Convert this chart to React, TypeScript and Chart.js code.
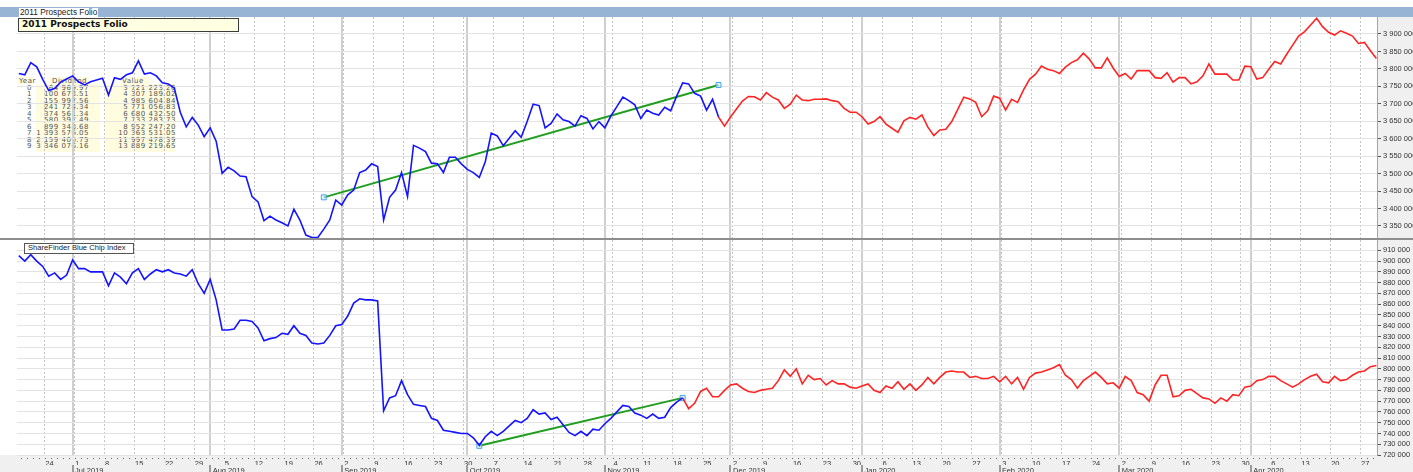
import React, { useEffect, useRef } from "react";
import { Chart, registerables } from "chart.js";

Chart.register(...registerables);

// ---------------- data ----------------
// trading-day axis: index 0 = Monday 17 Jun 2019, one slot per weekday
const FIRST_DAY_UTC = [2019, 5, 17];
const TRADING_DAY_COUNT = 229;
const MONTH_NAMES = ["Jan", "Feb", "Mar", "Apr", "May", "Jun", "Jul", "Aug", "Sep", "Oct", "Nov", "Dec"];

// 2011 Prospects Folio value (thousands), trading days 1..228
const FOLIO_FIRST_DAY = 1;
const FOLIO_PROJECTION_FROM = 118;
const folioThousands = [
  3787, 3783, 3818, 3806, 3770, 3738, 3744, 3762, 3771, 3780,
  3763, 3754, 3763, 3768, 3773, 3725, 3775, 3770, 3783, 3789,
  3823, 3785, 3789, 3780, 3760, 3757, 3745, 3676, 3634, 3661,
  3639, 3606, 3631, 3593, 3501, 3518, 3508, 3493, 3491, 3434,
  3419, 3365, 3378, 3367, 3359, 3350, 3398, 3367, 3324, 3317,
  3317, 3341, 3367, 3424, 3410, 3439, 3453, 3503, 3510, 3528,
  3520, 3367, 3432, 3453, 3503, 3434, 3581, 3573, 3563, 3530,
  3528, 3503, 3547, 3547, 3528, 3512, 3503, 3489, 3534, 3616,
  3608, 3580, 3601, 3623, 3604, 3649, 3699, 3695, 3631, 3644,
  3671, 3654, 3649, 3636, 3666, 3658, 3628, 3649, 3631, 3665,
  3692, 3719, 3709, 3697, 3658, 3682, 3673, 3668, 3690, 3680,
  3722, 3760, 3757, 3730, 3722, 3682, 3713, 3662, 3636, 3662,
  3685, 3708, 3721, 3720, 3711, 3732, 3719, 3711, 3687, 3699,
  3725, 3711, 3709, 3713, 3713, 3714, 3709, 3706, 3687, 3676,
  3676, 3663, 3642, 3649, 3663, 3642, 3630, 3618, 3651, 3661,
  3656, 3668, 3633, 3609, 3625, 3627, 3649, 3684, 3719, 3714,
  3704, 3663, 3680, 3722, 3716, 3682, 3713, 3704, 3740, 3770,
  3785, 3808, 3799, 3795, 3787, 3805, 3818, 3826, 3845, 3828,
  3803, 3803, 3832, 3802, 3778, 3787, 3771, 3795, 3795, 3795,
  3775, 3773, 3789, 3762, 3775, 3775, 3757, 3763, 3780, 3814,
  3785, 3785, 3785, 3768, 3768, 3808, 3806, 3771, 3775, 3799,
  3821, 3814, 3842, 3868, 3894, 3907, 3926, 3945, 3921, 3905,
  3897, 3909, 3902, 3894, 3873, 3876, 3852, 3830,
];

// ShareFinder Blue Chip Index (thousands), trading days 1..228
const INDEX_FIRST_DAY = 1;
const INDEX_PROJECTION_FROM = 112;
const blueChipThousands = [
  905, 900, 906, 900, 895, 886, 889, 883, 887, 901,
  893, 893, 890, 890, 890, 877, 889, 885, 879, 889,
  893, 883, 888, 892, 890, 892, 889, 888, 886, 892,
  879, 870, 883, 864, 836, 836, 837, 845, 845, 844,
  838, 826, 828, 829, 833, 832, 840, 833, 831, 824,
  823, 824, 831, 840, 841, 849, 861, 865, 864, 864,
  863, 761, 773, 775, 789, 776, 767, 766, 765, 754,
  752, 743, 742, 741, 740, 740, 736, 729, 737, 742,
  738, 742, 747, 752, 750, 754, 762, 758, 759, 753,
  755, 748, 741, 738, 742, 738, 744, 743, 749, 754,
  760, 766, 765, 759, 757, 754, 758, 754, 755, 764,
  769, 773, 763, 768, 779, 782, 774, 774, 780, 785,
  786, 782, 779, 778, 780, 781, 782, 789, 799, 793,
  800, 786, 794, 790, 791, 785, 789, 786, 786, 783,
  782, 784, 786, 780, 778, 784, 782, 788, 781, 786,
  780, 785, 792, 786, 792, 797, 798, 797, 797, 792,
  793, 791, 791, 793, 788, 793, 786, 792, 781, 792,
  796, 797, 799, 801, 804, 794, 790, 782, 789, 793,
  797, 792, 786, 787, 782, 793, 789, 778, 776, 770,
  785, 794, 794, 774, 775, 780, 781, 777, 773, 772,
  768, 773, 770, 776, 775, 783, 784, 789, 790, 793,
  793, 789, 786, 783, 786, 790, 793, 795, 788, 787,
  793, 789, 790, 794, 797, 798, 802, 803,
];

// trend lines (day index, value)
const folioTrendDays = [52, 118];
const folioTrendValues = [3432000, 3754000];
const blueChipTrendDays = [78, 112];
const blueChipTrendValues = [728500, 773000];

// right-axis tick values
const folioAxisTicks = [3350000, 3400000, 3450000, 3500000, 3550000, 3600000, 3650000, 3700000, 3750000, 3800000, 3850000, 3900000];
const blueChipAxisTicks = [720000, 730000, 740000, 750000, 760000, 770000, 780000, 790000, 800000, 810000, 820000, 830000, 840000, 850000, 860000, 870000, 880000, 890000, 900000, 910000];

// panel text
const PANEL_TITLE = "2011 Prospects Folio";
const INDEX_TITLE = "ShareFinder Blue Chip Index";
const tableHeaders = ["Year", "Dividend", "Value"];
const tableYears = ["0", "1", "2", "3", "4", "5", "6", "7", "8", "9"];
const tableDividends = ["64 969.97", "100 673.51", "155 997.56", "241 724.34", "374 561.34", "580 397.49", "899 348.68", "1 393 576.05", "2 159 400.75", "3 346 076.16"];
const tableValues = ["3 721 223.20", "4 307 189.02", "4 985 604.84", "5 771 056.83", "6 680 432.50", "7 733 283.73", "8 952 247.20", "10 363 531.05", "11 997 478.39", "13 889 219.65"];

// ---------------- derived axis structure ----------------
function buildTradingDays(): Date[] {
  const out: Date[] = [];
  const d = new Date(Date.UTC(FIRST_DAY_UTC[0], FIRST_DAY_UTC[1], FIRST_DAY_UTC[2]));
  while (out.length < TRADING_DAY_COUNT) {
    const wd = d.getUTCDay();
    if (wd !== 0 && wd !== 6) out.push(new Date(d.getTime()));
    d.setUTCDate(d.getUTCDate() + 1);
  }
  return out;
}
const tradingDays = buildTradingDays();
const WEEK_LINE_SHIFT = 0.35;
const weekTicks = tradingDays
  .map((d, i) => ({ d, i }))
  .filter(({ d, i }) => i > 0 && d.getUTCDay() === 1)
  .map(({ d, i }) => ({ pos: i + WEEK_LINE_SHIFT, label: String(d.getUTCDate()) }));
const monthTicks = tradingDays
  .map((d, i) => ({ d, i }))
  .filter(({ d, i }) => i > 0 && d.getUTCMonth() !== tradingDays[i - 1].getUTCMonth())
  .map(({ d, i }) => ({ pos: i, label: MONTH_NAMES[d.getUTCMonth()] + " " + d.getUTCFullYear() }));

const X_MIN = 0.7;
const X_MAX = 228.1;

const AXIS_FONT = "'Liberation Sans', Arial, sans-serif";
const BLUE = "#1414ff";
const RED = "#ff2424";
const GREEN = "#1f9e1f";

function fmtSpaced(v: number): string {
  return Math.round(v).toString().replace(/\B(?=(\d{3})+(?!\d))/g, " ");
}

function toPoints(first: number, vals: number[]) {
  return vals.map((v, k) => ({ x: first + k, y: v * 1000 }));
}

const stripPlugin = {
  id: "strips",
  beforeDraw(chart: any, _a: any, opts: any) {
    const { ctx, chartArea, width, height } = chart;
    ctx.save();
    ctx.fillStyle = "#f0f0f0";
    ctx.fillRect(chartArea.right, 0, width - chartArea.right, height);
    if (opts && opts.bottomStrip) ctx.fillRect(0, chartArea.bottom, width, height - chartArea.bottom);
    ctx.restore();
  },
  afterDraw(chart: any, _a: any, opts: any) {
    if (!opts || !opts.dayDots) return;
    const { ctx, chartArea } = chart;
    const xs = chart.scales.x;
    ctx.save();
    ctx.fillStyle = "#666";
    for (let i = 0; i < TRADING_DAY_COUNT; i++) {
      const px = xs.getPixelForValue(i + WEEK_LINE_SHIFT);
      if (px < chartArea.left || px > chartArea.right) continue;
      ctx.fillRect(Math.round(px), chartArea.bottom + 3, 1, 1);
    }
    ctx.restore();
  },
};

function xScales(showLabels: boolean) {
  const font = { family: AXIS_FONT, size: 7.5 };
  return {
    x: {
      type: "linear",
      position: "bottom",
      min: X_MIN,
      max: X_MAX,
      weight: 0,
      afterBuildTicks: (s: any) => {
        s.ticks = weekTicks.map((t) => ({ value: t.pos }));
      },
      afterFit: (s: any) => {
        s.height = showLabels ? 10 : 0;
        s.paddingLeft = 0;
        s.paddingRight = 0;
      },
      ticks: {
        display: showLabels,
        autoSkip: false,
        maxRotation: 0,
        minRotation: 0,
        align: "start",
        padding: 4,
        labelOffset: 0.5,
        color: "#333",
        font,
        callback: (_v: any, i: number) => (weekTicks[i] ? weekTicks[i].label : ""),
      },
      grid: { color: "#c4c4c4", lineWidth: 1, drawTicks: false },
      border: { display: false, dash: [2, 2] },
    },
    xm: {
      type: "linear",
      position: "bottom",
      min: X_MIN,
      max: X_MAX,
      weight: 1,
      afterBuildTicks: (s: any) => {
        s.ticks = monthTicks.map((t) => ({ value: t.pos }));
      },
      afterFit: (s: any) => {
        s.height = showLabels ? 7 : 0;
        s.paddingLeft = 0;
        s.paddingRight = 0;
      },
      ticks: {
        display: showLabels,
        autoSkip: false,
        maxRotation: 0,
        minRotation: 0,
        align: "start",
        padding: -5.5,
        labelOffset: 2.5,
        color: "#333",
        font,
        callback: (_v: any, i: number) => (monthTicks[i] ? monthTicks[i].label : ""),
      },
      grid: { color: "#cfcfcf", lineWidth: 2, drawTicks: showLabels, tickLength: 7, tickColor: "#444", tickWidth: 1 },
      border: { display: false },
    },
  };
}

function yScale(min: number, max: number, ticks: number[]) {
  return {
    type: "linear",
    position: "right",
    min,
    max,
    afterBuildTicks: (s: any) => {
      s.ticks = ticks.map((v) => ({ value: v }));
    },
    afterFit: (s: any) => {
      s.width = 36;
      s.paddingTop = 0;
      s.paddingBottom = 0;
    },
    ticks: {
      autoSkip: false,
      padding: 2,
      color: "#333",
      font: { family: AXIS_FONT, size: 7.5 },
      callback: (v: any) => fmtSpaced(Number(v)),
    },
    grid: { color: "#e3e3e3", lineWidth: 1, drawTicks: true, tickLength: 4, tickColor: "#555", tickWidth: 1 },
    border: { display: true, color: "#a4a4a4", width: 1 },
  };
}

function makeConfig(
  first: number,
  vals: number[],
  split: number,
  trendDays: number[],
  trendVals: number[],
  yMin: number,
  yMax: number,
  ticks: number[],
  bottom: boolean
): any {
  const pts = toPoints(first, vals);
  const trend = trendDays.map((d, k) => ({ x: d, y: trendVals[k] }));
  return {
    type: "line",
    data: {
      datasets: [
        { data: pts.filter((p) => p.x <= split), borderColor: BLUE, borderWidth: 1.6, pointRadius: 0, fill: false },
        { data: pts.filter((p) => p.x >= split), borderColor: RED, borderWidth: 1.6, pointRadius: 0, fill: false },
        {
          data: trend,
          borderColor: GREEN,
          borderWidth: 2,
          pointRadius: 3.5,
          pointStyle: "rect",
          pointBorderColor: "#45a6e6",
          pointBackgroundColor: "rgba(210,235,252,0.6)",
          pointBorderWidth: 1,
          fill: false,
        },
      ],
    },
    options: {
      responsive: false,
      animation: false,
      events: [],
      layout: { padding: { left: 17, right: 0, top: 0, bottom: 0 }, autoPadding: false },
      plugins: {
        legend: { display: false },
        tooltip: { enabled: false },
        title: { display: false },
        strips: { bottomStrip: bottom, dayDots: bottom },
      },
      elements: { line: { tension: 0 }, point: { radius: 0 } },
      scales: { ...xScales(bottom), y: yScale(yMin, yMax, ticks) },
    },
    plugins: [stripPlugin],
  };
}

const TABLE_FONT = "'DejaVu Sans', Verdana, sans-serif";

export default function App() {
  const topRef = useRef<HTMLCanvasElement | null>(null);
  const botRef = useRef<HTMLCanvasElement | null>(null);

  useEffect(() => {
    const charts: Chart[] = [];
    if (topRef.current) {
      charts.push(
        new Chart(
          topRef.current,
          makeConfig(FOLIO_FIRST_DAY, folioThousands, FOLIO_PROJECTION_FROM, folioTrendDays, folioTrendValues, 3315500, 3948700, folioAxisTicks, false)
        )
      );
    }
    if (botRef.current) {
      charts.push(
        new Chart(
          botRef.current,
          makeConfig(INDEX_FIRST_DAY, blueChipThousands, INDEX_PROJECTION_FROM, blueChipTrendDays, blueChipTrendValues, 720000, 919550, blueChipAxisTicks, true)
        )
      );
    }
    return () => charts.forEach((c) => c.destroy());
  }, []);

  const cellBase: React.CSSProperties = {
    position: "absolute",
    fontFamily: TABLE_FONT,
    fontSize: 7,
    letterSpacing: 0.5,
    lineHeight: "7px",
    color: "#555",
    whiteSpace: "nowrap",
  };
  const bg = "#fffce0";

  return (
    <div style={{ position: "fixed", left: 0, top: 0, width: 1413, height: 472, background: "#fff", overflow: "hidden" }}>
      {/* title bar */}
      <div style={{ position: "absolute", left: 0, top: 7, width: 1413, height: 10, background: "#98b4d4" }} />
      <div
        style={{
          position: "absolute",
          left: 19,
          top: 8,
          height: 9,
          padding: "0 1px",
          background: "#fff",
          fontFamily: AXIS_FONT,
          fontSize: 8.3,
          lineHeight: "9px",
          color: "#222",
          whiteSpace: "nowrap",
        }}
      >
        {PANEL_TITLE}
      </div>

      {/* projection table (under the plot lines) */}
      <div style={{ position: "absolute", left: 18, top: 77, width: 15, height: 7, background: bg }} />
      <div style={{ position: "absolute", left: 50, top: 77, width: 40, height: 7, background: bg }} />
      <div style={{ position: "absolute", left: 121, top: 77, width: 29, height: 7, background: bg }} />
      <div style={{ position: "absolute", left: 36, top: 84, width: 64, height: 68, background: bg }} />
      <div style={{ position: "absolute", left: 104, top: 84, width: 72, height: 68, background: bg }} />
      <div style={{ ...cellBase, left: 19, top: 77.5 }}>{tableHeaders[0]}</div>
      <div style={{ ...cellBase, left: 52, top: 77.5 }}>{tableHeaders[1]}</div>
      <div style={{ ...cellBase, left: 122, top: 77.5 }}>{tableHeaders[2]}</div>
      {tableYears.map((y, k) => (
        <div key={"y" + k} style={{ ...cellBase, left: 22, width: 15, textAlign: "center", top: 84.5 + 6.52 * k }}>
          {y}
        </div>
      ))}
      {tableDividends.map((v, k) => (
        <div key={"d" + k} style={{ ...cellBase, left: 28, width: 61, textAlign: "right", top: 84.5 + 6.52 * k }}>
          {v}
        </div>
      ))}
      {tableValues.map((v, k) => (
        <div key={"v" + k} style={{ ...cellBase, left: 106, width: 70, textAlign: "right", top: 84.5 + 6.52 * k }}>
          {v}
        </div>
      ))}

      {/* charts */}
      <canvas ref={topRef} width={1413} height={221} style={{ position: "absolute", left: 0, top: 17, width: 1413, height: 221 }} />
      <div style={{ position: "absolute", left: 0, top: 238, width: 1413, height: 2, background: "#8e8e8e" }} />
      <canvas ref={botRef} width={1413} height={232} style={{ position: "absolute", left: 0, top: 240, width: 1413, height: 232 }} />

      {/* panel captions */}
      <div
        style={{
          position: "absolute",
          left: 18,
          top: 18,
          width: 221,
          height: 13.5,
          boxSizing: "border-box",
          border: "1px solid #3c3c3c",
          background: "#ffffe1",
          paddingLeft: 3,
          fontFamily: TABLE_FONT,
          fontWeight: "bold",
          fontSize: 9,
          lineHeight: "11px",
          color: "#111",
          whiteSpace: "nowrap",
        }}
      >
        {PANEL_TITLE}
      </div>
      <div
        style={{
          position: "absolute",
          left: 24,
          top: 243,
          width: 110,
          height: 10.5,
          boxSizing: "border-box",
          border: "1px solid #555",
          background: "#fff",
          paddingLeft: 3,
          fontFamily: AXIS_FONT,
          fontSize: 7.6,
          lineHeight: "8.5px",
          color: "#222",
          whiteSpace: "nowrap",
        }}
      >
        {INDEX_TITLE}
      </div>
    </div>
  );
}
